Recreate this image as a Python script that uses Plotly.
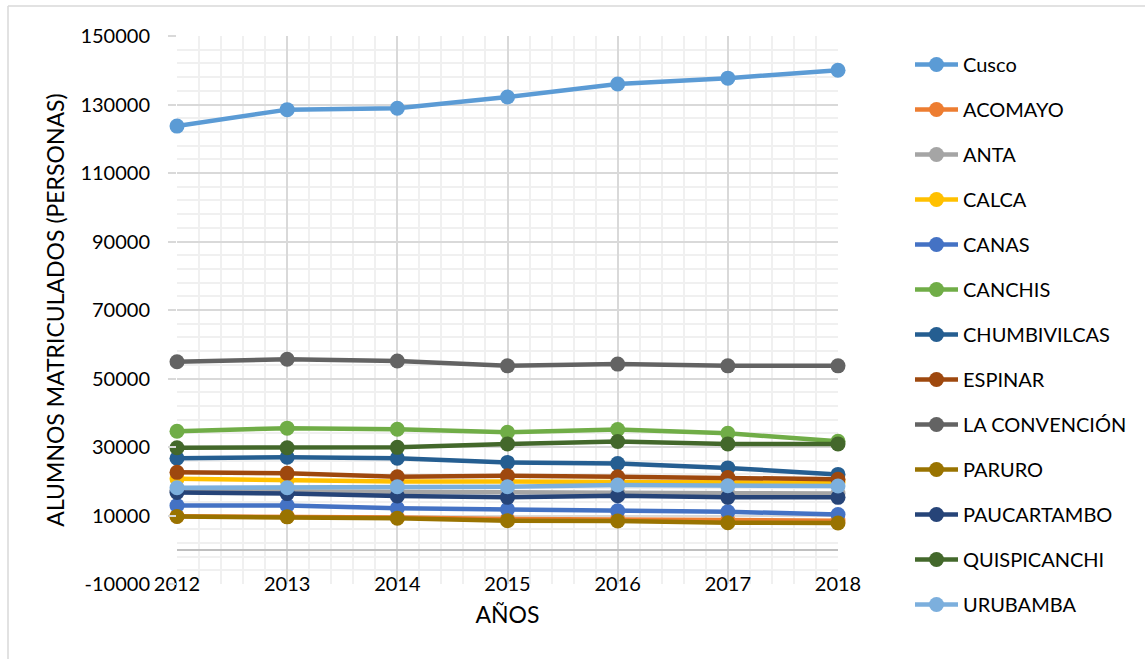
import plotly.graph_objects as go

# Enrolled students per province, Cusco region, 2012-2018
years = [2012, 2013, 2014, 2015, 2016, 2017, 2018]

cusco = [123700, 128500, 128900, 132200, 136000, 137700, 140000]
acomayo = [9800, 9700, 9400, 9000, 9000, 8700, 8500]
anta = [17200, 17000, 16800, 16600, 16700, 16500, 16400]
calca = [20700, 20300, 19900, 19900, 19900, 19600, 19600]
canas = [12900, 12900, 12100, 11800, 11400, 11100, 10300]
canchis = [34600, 35500, 35200, 34300, 35100, 34000, 31700]
chumbivilcas = [26700, 27000, 26700, 25500, 25200, 23900, 22000]
espinar = [22600, 22300, 21300, 21600, 21300, 21100, 20600]
la_convencion = [54900, 55600, 55100, 53700, 54200, 53700, 53700]
paruro = [9700, 9600, 9200, 8500, 8400, 7900, 7800]
paucartambo = [16700, 16400, 15700, 15300, 15800, 15300, 15300]
quispicanchi = [29800, 29800, 29900, 30900, 31600, 30900, 30900]
urubamba = [18100, 18100, 18400, 18400, 18900, 18700, 18600]

names = ["Cusco", "ACOMAYO", "ANTA", "CALCA", "CANAS", "CANCHIS", "CHUMBIVILCAS",
         "ESPINAR", "LA CONVENCIÓN", "PARURO", "PAUCARTAMBO", "QUISPICANCHI", "URUBAMBA"]
series = [cusco, acomayo, anta, calca, canas, canchis, chumbivilcas,
          espinar, la_convencion, paruro, paucartambo, quispicanchi, urubamba]
colors = ["#5B9BD5", "#ED7D31", "#A5A5A5", "#FFC000", "#4472C4", "#70AD47", "#255E91",
          "#9E480E", "#636363", "#997300", "#264478", "#43682B", "#7CAFDD"]

# Value-axis ticks (plain hyphen for the negative label)
y_ticks = [-10000, 10000, 30000, 50000, 70000, 90000, 110000, 130000, 150000]
y_ticktext = [str(v) for v in y_ticks]

FONT = "Lato, Calibri, sans-serif"
W, H = 1145, 659
L, R, T, B = 177, 838, 36, 584
ITEM_GAP = 45          # vertical distance between legend entries (px)
SPLIT = 7              # entries in the first legend block

fig = go.Figure()
for i, (name, vals, col) in enumerate(zip(names, series, colors)):
    fig.add_trace(go.Scatter(
        x=years, y=vals, name=name, mode="lines+markers",
        line=dict(color=col, width=4.5),
        marker=dict(color=col, size=15),
        cliponaxis=False, legendgroup=name,
        legend="legend" if i < SPLIT else "legend2",
    ))

legend_common = dict(
    xref="container", yref="container",
    x=910 / W, xanchor="left", yanchor="top",
    font=dict(family=FONT, size=20, color="#000000"),
    tracegroupgap=16, itemwidth=43,
    bgcolor="rgba(0,0,0,0)",
)

fig.update_layout(
    width=W, height=H,
    margin=dict(l=L, r=W - R, t=T, b=H - B, pad=0),
    paper_bgcolor="white", plot_bgcolor="white",
    font=dict(family=FONT, size=20, color="#000000"),
    showlegend=True,
    legend=dict(legend_common, y=1 - 45 / H),
    legend2=dict(legend_common, y=1 - (45 + SPLIT * ITEM_GAP) / H),
    shapes=[
        dict(type="line", xref="paper", yref="paper",
             x0=(8 - L) / (R - L), x1=(W - L) / (R - L),
             y0=(B - 6) / (B - T), y1=(B - 6) / (B - T),
             line=dict(color="#d9d9d9", width=1.5)),
        dict(type="line", xref="paper", yref="paper",
             x0=(8 - L) / (R - L), x1=(8 - L) / (R - L),
             y0=(B - 6) / (B - T), y1=(B - H) / (B - T),
             line=dict(color="#d9d9d9", width=1.5)),
    ],
)

fig.update_xaxes(
    range=[2012, 2018], dtick=1, tick0=2012,
    showgrid=True, gridcolor="#d9d9d9", gridwidth=1.5,
    minor=dict(dtick=0.2, showgrid=True, gridcolor="#f0f0f0", gridwidth=1.5),
    showline=False, zeroline=False, ticks="",
    ticklabelstandoff=-14,
    tickfont=dict(family=FONT, size=20, color="#000000"),
    title=dict(text="AÑOS", font=dict(family=FONT, size=23, color="#000000"), standoff=12),
)

fig.update_yaxes(
    range=[-10000, 150000],
    tickmode="array", tickvals=y_ticks, ticktext=y_ticktext,
    showgrid=True, gridcolor="#d9d9d9", gridwidth=1.5,
    minor=dict(dtick=4000, tick0=-10000, showgrid=True, gridcolor="#f0f0f0", gridwidth=1.5),
    zeroline=True, zerolinecolor="#bfbfbf", zerolinewidth=2,
    showline=False, ticks="outside", ticklen=8, tickcolor="#d9d9d9", tickwidth=1.5,
    ticklabelstandoff=14,
    tickfont=dict(family=FONT, size=20, color="#000000"),
    title=dict(text="ALUMNOS MATRICULADOS (PERSONAS)",
               font=dict(family=FONT, size=23, color="#000000"), standoff=9),
)

fig.write_html("out.html")
